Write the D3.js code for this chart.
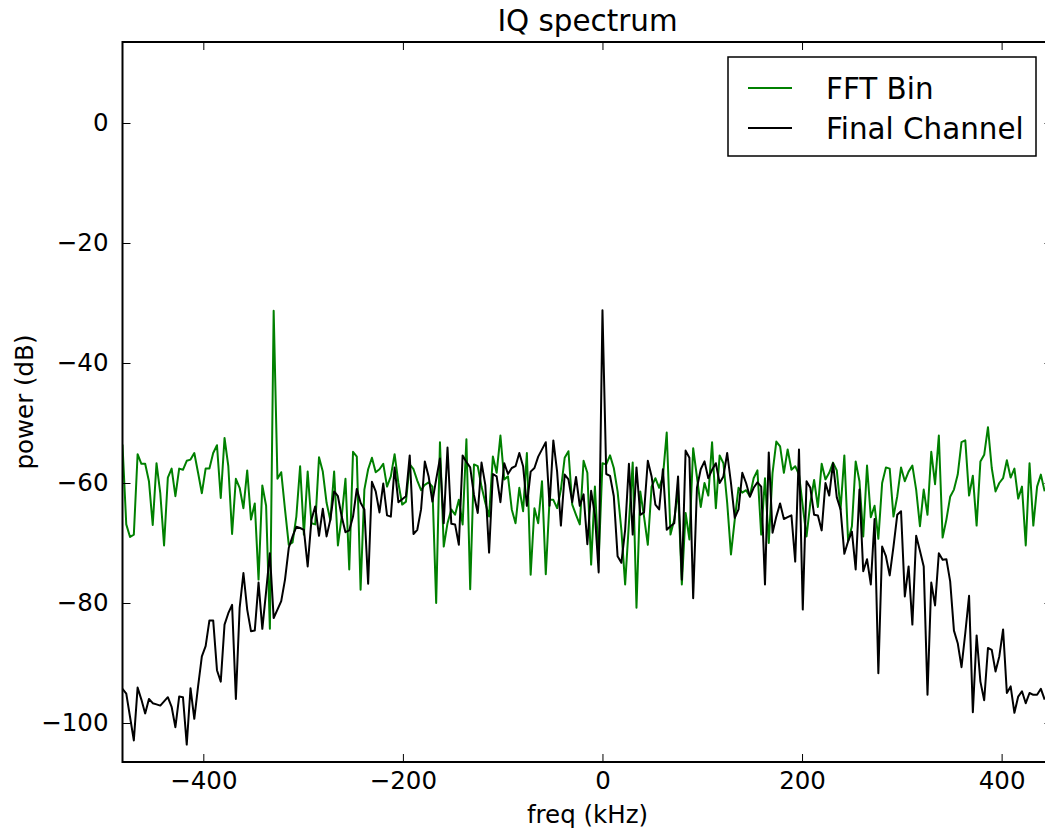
<!DOCTYPE html>
<html>
<head>
<meta charset="utf-8">
<script src="https://cdn.jsdelivr.net/npm/d3@7"></script>
<style>
body { margin: 0; background: #fff; overflow: hidden; }
text { font-family: "DejaVu Sans", sans-serif; }
</style>
</head>
<body>
<div id="chart"></div>
<script>
// spacing of the FFT points (kHz); the final channel peak sits on 0
const step = 3.7875;
const firstFreq = -127 * step;

// power (dB), one value per FFT point
const fftBin = [
	-53.6, -66.9, -69.0, -68.6, -55.2, -56.8, -56.8, -59.7, -67.0, -56.7,
	-61.7, -70.4, -59.1, -57.6, -62.2, -57.6, -57.8, -56.3, -56.1, -55.0,
	-58.3, -61.7, -57.6, -57.6, -55.0, -53.7, -62.5, -52.5, -57.2, -68.5,
	-59.3, -60.8, -64.2, -57.9, -66.1, -63.4, -76.1, -60.4, -63.8, -84.3,
	-31.3, -59.3, -58.2, -64.4, -70.3, -69.9, -65.6, -57.2, -68.6, -58.1,
	-66.7, -66.9, -55.7, -58.1, -63.3, -66.2, -58.1, -70.4, -65.6, -59.3,
	-74.4, -54.8, -55.6, -77.8, -61.1, -57.7, -55.8, -58.2, -57.7, -56.8,
	-60.6, -58.9, -55.2, -60.0, -63.6, -63.1, -56.9, -57.7, -59.6, -61.2,
	-60.3, -59.9, -60.6, -80.0, -53.2, -70.6, -66.7, -64.4, -65.3, -62.8,
	-66.9, -52.7, -77.7, -56.9, -57.2, -60.6, -63.3, -65.6, -55.6, -58.3,
	-52.1, -59.4, -58.9, -64.4, -66.7, -60.8, -64.7, -55.0, -75.3, -64.2,
	-66.7, -59.7, -75.2, -62.8, -62.8, -64.2, -61.1, -55.8, -54.7, -63.6,
	-65.3, -66.9, -56.3, -58.3, -73.6, -60.6, -72.8, -56.7, -56.9, -55.4,
	-57.5, -61.4, -67.8, -76.9, -66.7, -56.6, -80.8, -61.4, -65.6, -70.3,
	-60.6, -59.2, -60.8, -58.9, -51.6, -68.6, -66.1, -61.1, -76.9, -65.0,
	-69.4, -54.2, -59.0, -64.0, -60.0, -62.1, -53.2, -64.2, -55.4, -56.7,
	-63.3, -71.9, -66.1, -60.8, -61.6, -61.2, -62.2, -59.2, -57.9, -68.6,
	-59.2, -70.0, -58.3, -53.1, -53.9, -58.3, -54.4, -57.8, -57.2, -58.6,
	-63.9, -68.9, -63.3, -59.5, -64.0, -56.8, -59.4, -58.3, -56.6, -57.9,
	-64.4, -55.4, -69.7, -67.2, -56.4, -59.7, -68.9, -57.1, -65.7, -63.8,
	-69.3, -60.0, -57.4, -57.6, -65.6, -62.2, -57.4, -59.7, -58.1, -57.1,
	-61.1, -67.2, -61.1, -65.3, -54.8, -60.2, -52.1, -69.1, -66.1, -62.3,
	-61.1, -58.6, -53.2, -52.9, -62.1, -58.8, -67.1, -56.4, -55.3, -50.7,
	-57.5, -61.4, -60.0, -59.2, -56.2, -59.1, -57.6, -62.6, -60.6, -70.4,
	-56.7, -67.1, -60.6, -58.6, -61.4
];
const finalChannel = [
	-94.3, -95.1, -99.0, -102.9, -94.1, -96.1, -98.4, -96.0, -96.7, -96.9,
	-97.1, -96.4, -95.7, -97.3, -100.7, -95.6, -95.7, -103.6, -94.2, -99.3,
	-93.9, -88.9, -87.2, -82.9, -82.9, -91.2, -93.1, -83.6, -81.7, -80.3,
	-96.0, -80.8, -75.0, -81.1, -84.7, -84.6, -76.6, -84.3, -78.1, -71.7,
	-82.5, -81.1, -79.7, -76.1, -70.8, -68.9, -67.3, -67.5, -67.8, -73.9,
	-66.1, -63.9, -68.8, -64.3, -68.9, -66.1, -61.4, -62.2, -65.6, -68.2,
	-67.9, -65.6, -61.0, -63.3, -64.4, -76.8, -59.8, -61.4, -64.9, -60.1,
	-65.4, -65.6, -57.4, -63.2, -62.7, -62.2, -55.4, -68.5, -67.8, -64.4,
	-56.4, -58.9, -63.1, -59.4, -55.9, -66.7, -54.1, -66.8, -66.9, -70.3,
	-55.4, -56.5, -57.4, -62.0, -65.0, -56.6, -60.3, -71.6, -58.5, -58.9,
	-63.2, -56.7, -58.5, -57.5, -57.2, -55.0, -57.2, -63.8, -58.1, -57.5,
	-55.6, -54.4, -53.2, -63.8, -52.9, -58.1, -67.1, -58.6, -59.4, -63.2,
	-59.0, -63.8, -61.9, -70.2, -61.3, -65.3, -74.9, -31.2, -58.5, -58.8,
	-62.2, -72.2, -73.3, -67.8, -56.8, -68.6, -57.4, -65.3, -64.9, -56.3,
	-58.9, -63.6, -64.4, -57.7, -67.8, -67.2, -66.7, -58.9, -76.1, -54.6,
	-55.8, -79.2, -60.8, -57.7, -56.4, -59.2, -57.8, -56.7, -60.0, -58.9,
	-55.0, -60.0, -65.8, -64.4, -58.3, -60.0, -62.3, -60.8, -59.9, -60.6,
	-76.9, -54.9, -68.3, -65.6, -63.4, -66.0, -65.7, -65.4, -73.1, -54.4,
	-81.1, -59.7, -60.8, -65.3, -65.4, -67.9, -60.0, -62.1, -56.7, -62.4,
	-64.4, -71.8, -69.7, -68.1, -74.4, -61.1, -74.7, -72.7, -76.9, -66.0,
	-91.7, -70.6, -72.2, -75.4, -70.6, -65.3, -64.7, -78.9, -73.9, -83.6,
	-68.8, -71.3, -73.9, -95.3, -76.6, -80.4, -71.7, -72.8, -72.7, -76.4,
	-84.6, -86.7, -90.7, -85.0, -78.8, -98.2, -85.4, -93.1, -96.2, -87.5,
	-87.8, -91.4, -88.9, -84.4, -95.0, -93.9, -98.3, -95.6, -94.7, -96.7,
	-95.0, -95.3, -95.3, -94.3, -96.1
];

const seriesNames = ["FFT Bin", "Final Channel"];
const seriesColors = ["#008000", "#000000"];
const xTicks = [-400, -200, 0, 200, 400];
const yTicks = [0, -20, -40, -60, -80, -100];
const xLimits = [-481, 451];
const yLimits = [-106.5, 13.5];

var width = 1045;
var height = 831;
// the axes run slightly past the right edge of the picture
var margin = { top: 42, right: -7.5, bottom: 69, left: 122.5 };
var fontSize = 24.5;
var bigFont = 29.4;

var svg = d3
	.select("#chart")
	.append("svg")
	.attr("width", width)
	.attr("height", height);

var x = d3
	.scaleLinear()
	.domain(xLimits)
	.range([margin.left, width - margin.right]);
var y = d3
	.scaleLinear()
	.domain(yLimits)
	.range([height - margin.bottom, margin.top]);

var plotW = width - margin.right - margin.left;
var plotH = height - margin.bottom - margin.top;

svg
	.append("clipPath")
	.attr("id", "plot-clip")
	.append("rect")
	.attr("x", margin.left)
	.attr("y", margin.top)
	.attr("width", plotW)
	.attr("height", plotH);

// Draw the lines
var line = d3
	.line()
	.x((d, i) => x(firstFreq + i * step))
	.y((d) => y(d));

[fftBin, finalChannel].forEach((values, k) => {
	svg
		.append("path")
		.datum(values)
		.attr("clip-path", "url(#plot-clip)")
		.attr("d", line)
		.attr("fill", "none")
		.attr("stroke", seriesColors[k])
		.attr("stroke-width", 2)
		.attr("stroke-linejoin", "round");
});

// ticks point inwards on every side
function styleAxis(g) {
	g.select(".domain").remove();
	g.selectAll(".tick line").attr("stroke", "#000").attr("stroke-width", 1);
	g.selectAll("text")
		.attr("fill", "#000")
		.attr("font-size", fontSize + "px")
		.attr("font-family", '"DejaVu Sans", sans-serif');
}
var fmt = (d) => (d < 0 ? "\u2212" + Math.abs(d) : String(d));

svg
	.append("g")
	.attr("transform", `translate(0,${height - margin.bottom})`)
	.call(d3.axisBottom(x).tickValues(xTicks).tickFormat(fmt).tickSize(-8).tickPadding(10))
	.call(styleAxis);
svg
	.append("g")
	.attr("transform", `translate(0,${margin.top})`)
	.call(d3.axisTop(x).tickValues(xTicks).tickFormat("").tickSize(-8))
	.call(styleAxis);
svg
	.append("g")
	.attr("transform", `translate(${margin.left},0)`)
	.call(d3.axisLeft(y).tickValues(yTicks).tickFormat(fmt).tickSize(-8).tickPadding(14))
	.call(styleAxis);
svg
	.append("g")
	.attr("transform", `translate(${width - margin.right},0)`)
	.call(d3.axisRight(y).tickValues(yTicks).tickFormat("").tickSize(-8))
	.call(styleAxis);

// frame
svg
	.append("rect")
	.attr("x", margin.left)
	.attr("y", margin.top)
	.attr("width", plotW)
	.attr("height", plotH)
	.attr("fill", "none")
	.attr("stroke", "#000")
	.attr("stroke-width", 2);

var midX = margin.left + plotW / 2;

// title
svg
	.append("text")
	.attr("x", midX)
	.attr("y", 31)
	.attr("text-anchor", "middle")
	.attr("font-size", bigFont + "px")
	.text("IQ spectrum");

// X axis label
svg
	.append("text")
	.attr("x", midX)
	.attr("y", 823)
	.attr("text-anchor", "middle")
	.attr("font-size", fontSize + "px")
	.text("freq (kHz)");

// Y axis label
svg
	.append("text")
	.attr("transform", "rotate(-90)")
	.attr("x", -(margin.top + plotH / 2))
	.attr("y", 33)
	.attr("text-anchor", "middle")
	.attr("font-size", fontSize + "px")
	.text("power (dB)");

// Add legend
var legend = svg
	.append("g")
	.attr("class", "legend")
	.attr("transform", "translate(728,57)");

legend
	.append("rect")
	.attr("width", 308)
	.attr("height", 99)
	.attr("fill", "#fff")
	.attr("stroke", "#000")
	.attr("stroke-width", 1.5);

seriesNames.forEach((name, index) => {
	var row = legend.append("g").attr("transform", `translate(0, ${31 + index * 40})`);
	row
		.append("line")
		.attr("x1", 20)
		.attr("x2", 64)
		.attr("stroke", seriesColors[index])
		.attr("stroke-width", 2);
	row
		.append("text")
		.attr("x", 98)
		.attr("y", 10.5)
		.attr("font-size", bigFont + "px")
		.text(name);
});
</script>
</body>
</html>
